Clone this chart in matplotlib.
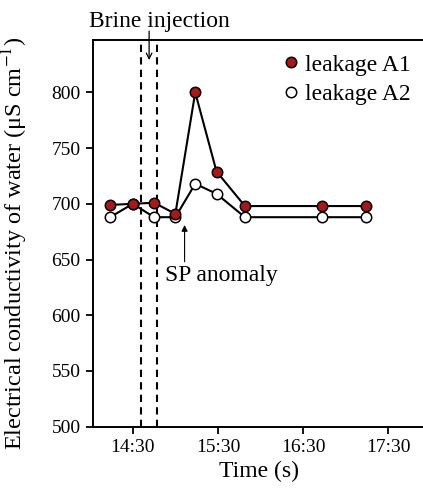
import matplotlib.pyplot as plt
import numpy as np

plt.rcParams['font.family'] = ['Liberation Serif', 'DejaVu Serif']
plt.rcParams['mathtext.fontset'] = 'stix'

# ---------- data (time in minutes after midnight) ----------
times = np.array([854, 870, 885, 900, 914, 929, 949, 1003, 1034])
leak_a1 = [699, 700, 701, 691, 800, 729, 698, 698, 698]
leak_a2 = [688, 700, 688, 688, 718, 709, 688, 688, 688]

brine_lines = [876, 887]          # dashed lines for brine injection
tick_times = [870, 930, 990, 1050]
tick_labels = ['14:30', '15:30', '16:30', '17:30']
y_ticks = [500, 550, 600, 650, 700, 750, 800]

# ---------- figure ----------
fig = plt.figure(figsize=(4.23, 4.92), dpi=100)
ax = fig.add_axes([0.22, 0.1327, 0.785, 0.786])

for xb in brine_lines:
    ax.axvline(xb, color='black', ls=(0, (3.5, 2.5)), lw=1.5, zorder=1)

ax.plot(times, leak_a2, color='black', lw=1.5, marker='o', ms=7.5,
        mfc='white', mec='black', mew=1.1, zorder=3, label='leakage A2')
ax.plot(times, leak_a1, color='black', lw=1.5, marker='o', ms=7.5,
        mfc='#a81818', mec='black', mew=1.1, zorder=4, label='leakage A1')

# legend: markers only
h1 = plt.Line2D([], [], ls='none', marker='o', ms=7.5, mfc='#a81818', mec='black', mew=1.1)
h2 = plt.Line2D([], [], ls='none', marker='o', ms=7.5, mfc='white', mec='black', mew=1.1)
ax.legend([h1, h2], ['leakage A1', 'leakage A2'], loc='upper right',
          bbox_to_anchor=(1.0, 1.0), frameon=False, fontsize=17,
          handlelength=0.5, handletextpad=0.35, labelspacing=0.35,
          borderaxespad=0.2)

# annotations
ax.text(889, 864, 'Brine injection', ha='center', va='center', fontsize=17)
ax.annotate('', xy=(881.5, 829), xytext=(881.5, 855),
            arrowprops=dict(arrowstyle='->', lw=0.9, color='black',
                            shrinkA=0, shrinkB=0),
            annotation_clip=False)
ax.annotate('', xy=(906.5, 681), xytext=(906.5, 648),
            arrowprops=dict(arrowstyle='-|>', lw=0.8, color='black',
                            mutation_scale=9, shrinkA=0, shrinkB=0))
ax.text(893, 636, 'SP anomaly', ha='left', va='center', fontsize=17)

# axes
ax.set_xlim(842, 1076)
ax.set_ylim(500, 847)
ax.set_xticks(tick_times)
ax.set_xticklabels(tick_labels)
ax.set_yticks(y_ticks)
ax.tick_params(direction='out', length=5, width=1.3, labelsize=14, pad=4)
for s in ax.spines.values():
    s.set_linewidth(1.4)
ax.set_xlabel('Time (s)', fontsize=17, labelpad=3)
ax.set_ylabel('Electrical conductivity of water (μS cm$^{-1}$)', fontsize=17.5)
ax.yaxis.set_label_coords(-0.19, 0.473)

fig.savefig('out.png', dpi=100)
